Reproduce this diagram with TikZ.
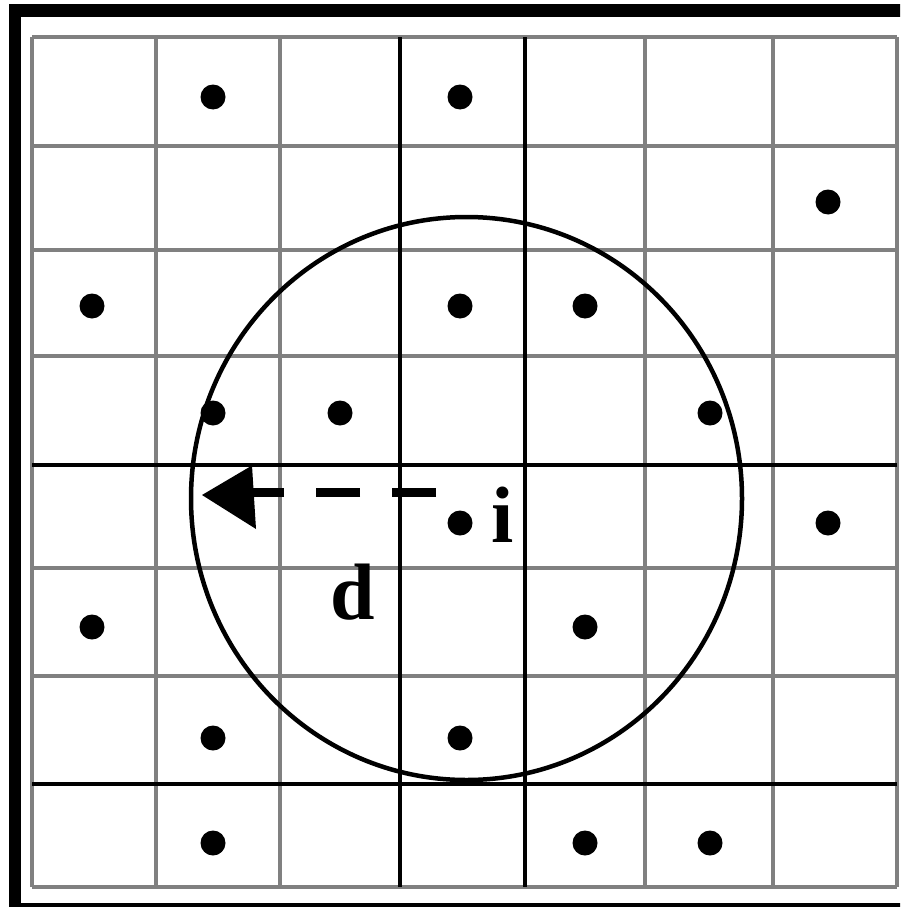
\documentclass[tikz,border=0pt]{standalone}
\usepackage{fontspec}
\setmainfont{Liberation Serif}
\begin{document}
\begin{tikzpicture}[x=1pt,y=-1pt,
  gridline/.style={draw={rgb,255:red,128;green,128;blue,128},line width=4pt},
  boldline/.style={draw=black,line width=4pt},
  dotmark/.style={fill=black},
  lbl/.style={inner sep=0pt,anchor=base west,font=\fontsize{80}{80}\selectfont\bfseries}]
\useasboundingbox (0,0) rectangle (900,907);
\begin{scope}
\clip (0,0) rectangle (900,907);
\fill[white] (0,0) rectangle (900,907);
% outer frame
\draw[line width=12.5pt] (15,10.5) rectangle (910,909.5);
% gray grid
\foreach \x in {32,156,280,400,525,645,773,897}
  \draw[gridline] (\x,37.5) -- (\x,887);
\foreach \y in {37.5,145.5,250,356,464.5,568,676,784,887}
  \draw[gridline] (32,\y) -- (897,\y);
% black grid lines
\foreach \x in {400,525}
  \draw[boldline] (\x,37.5) -- (\x,887);
\foreach \y in {464.5,784}
  \draw[boldline] (32,\y) -- (897,\y);
% circle
\draw[line width=4.5pt] (466.5,498.5) ellipse [x radius=275.5, y radius=281.5];
% dots
\foreach \p in {(213,97),(460,97),(828,202),(92,306),(460,306),(585,306),
  (213,413),(340,413),(710,413),(828,523),(92,627),(585,627),
  (213,738),(460,738),(213,843),(585,843),(710,843)}
  \fill[dotmark] \p circle (12.5);
\node[dotmark,circle,inner sep=0pt,minimum size=25pt] (i) at (460,523) {};
% arrow
\coordinate (tail) at (436,492.5);
\coordinate (head) at (253,492.5);
\draw[line width=8.5pt,dash pattern=on 44pt off 32pt] (tail) -- (head);
\fill (202,495) -- (252,465.5) -- (256,529) -- cycle;
% labels
\node[lbl] (li) at (491,542) {i};
\node[lbl] (ld) at (330,619) {d};
\end{scope}
\end{tikzpicture}
\end{document}
